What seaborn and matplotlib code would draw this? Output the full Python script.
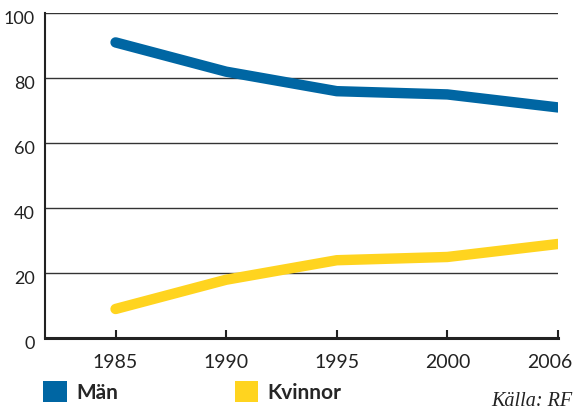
import pandas as pd
import matplotlib.pyplot as plt
import seaborn as sns
from matplotlib.patches import Patch
from matplotlib.transforms import ScaledTranslation

# ==========================================
# DATA
# ==========================================

years = ["1985", "1990", "1995", "2000", "2006"]
man = [91, 82, 76, 75, 71]
kvinnor = [9, 18, 24, 25, 29]
y_ticks = [0, 20, 40, 60, 80, 100]

df = pd.DataFrame({
    "year": years * 2,
    "value": man + kvinnor,
    "group": ["Män"] * len(years) + ["Kvinnor"] * len(years)
})

colors = {"Män": "#0066a3", "Kvinnor": "#ffd41f"}

# ==========================================
# PLOT
# ==========================================

sns.set_style("white")
plt.rcParams['font.family'] = ['Lato', 'DejaVu Sans']

fig = plt.figure(figsize=(5.74, 4.11), dpi=100)
ax = fig.add_axes([0.078, 0.177, 0.894, 0.791])

for y in y_ticks[1:]:
    ax.axhline(y, color="#333333", lw=1.0, zorder=1)

sns.lineplot(
    data=df,
    x="year",
    y="value",
    hue="group",
    palette=colors,
    linewidth=7.5,
    solid_capstyle="round",
    solid_joinstyle="round",
    legend=False,
    ax=ax,
    zorder=3
)

ax.set_xlim(-0.64, 4)
ax.set_ylim(0, 100)
ax.set_yticks(y_ticks)
ax.set_yticklabels([str(t) for t in y_ticks], fontsize=13, color="#222222")
ax.set_xticks(range(len(years)))
ax.set_xticklabels(years, fontsize=14, color="#222222")
ax.set_xlabel("")
ax.set_ylabel("")

for side in ["top", "right"]:
    ax.spines[side].set_visible(False)
ax.spines["left"].set_color("#222222")
ax.spines["left"].set_linewidth(1.5)
ax.spines["bottom"].set_color("#222222")
ax.spines["bottom"].set_linewidth(2.2)

ax.tick_params(axis="x", direction="in", length=6, width=1.5,
               color="#222222", pad=11, bottom=True)
ax.tick_params(axis="y", length=0, pad=7)

handles = [
    Patch(facecolor=colors["Män"], edgecolor="none", label="Män"),
    Patch(facecolor=colors["Kvinnor"], edgecolor="none", label="Kvinnor")
]

fig.legend(
    handles=handles,
    loc="lower left",
    bbox_to_anchor=(0.075, 0.02),
    borderaxespad=0,
    borderpad=0,
    ncol=2,
    frameon=False,
    handlelength=1.15,
    handleheight=1.15,
    handletextpad=0.43,
    columnspacing=5.6,
    prop={"weight": "bold", "size": 15}
)

fig.text(0.997, 0.013, "Källa: RF", ha="right", va="baseline",
         fontsize=14.5, style="italic", family="Liberation Serif",
         color="#222222")

# small nudges after the ticks exist: y labels sit a bit under their lines,
# 2006 pulled inside the figure
fig.canvas.draw()
for tick in ax.yaxis.get_major_ticks():
    lab = tick.label1
    lab.set_transform(lab.get_transform() +
                      ScaledTranslation(0, -4 / 100, fig.dpi_scale_trans))
last = ax.xaxis.get_major_ticks()[-1].label1
last.set_transform(last.get_transform() +
                   ScaledTranslation(-8 / 100, 0, fig.dpi_scale_trans))

plt.savefig("out.png", dpi=100)
